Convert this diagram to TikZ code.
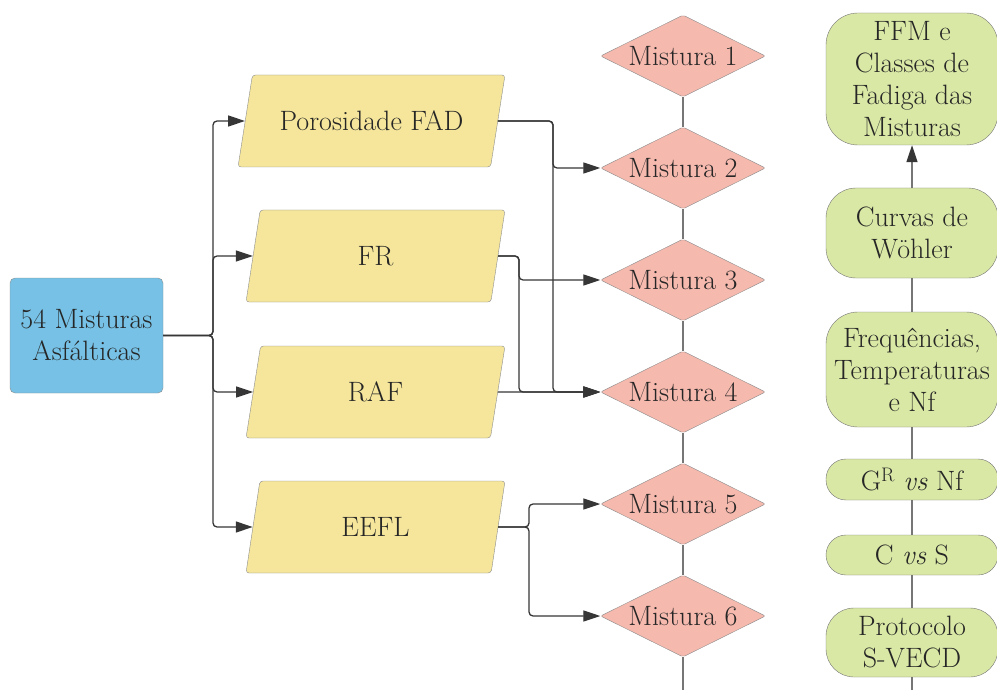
\documentclass[tikz,border=0pt]{standalone}
\usetikzlibrary{arrows.meta,shapes.geometric,calc}
\definecolor{ink}{HTML}{262626}
\definecolor{sky}{HTML}{76C1E5}
\definecolor{sand}{HTML}{F5E69B}
\definecolor{rose}{HTML}{F6B9AE}
\definecolor{lime}{HTML}{D9E8A5}
\definecolor{edge}{HTML}{8C8C8C}
\definecolor{wire}{HTML}{363636}
\definecolor{stem}{HTML}{767676}

\begin{document}
\begin{tikzpicture}[x=1pt,y=-1pt,
  every node/.style={text=ink,font=\rmfamily\fontsize{28}{32}\selectfont},
  src/.style={draw=edge,fill=sky,rounded corners=5pt,minimum width=153pt,minimum height=115pt,align=center,inner sep=2pt},
  par/.style={trapezium,trapezium left angle=59,trapezium right angle=121,trapezium stretches body,draw=edge,fill=sand,rounded corners=3pt,minimum height=92pt,minimum width=259pt,inner sep=2pt},
  mix/.style={diamond,aspect=2,draw=edge,fill=rose,rounded corners=2pt,minimum width=165pt,minimum height=82pt,inner sep=0pt},
  res/.style={draw=stem,fill=lime,minimum width=172pt,align=center,inner sep=1pt},
  link/.style={draw=wire,line width=1.3pt,rounded corners=4pt,-{Triangle[length=17pt,width=11pt]}},
  chain/.style={draw=stem,line width=1.3pt}]
\useasboundingbox (0,0) rectangle (997,690);
% inputs
\node[src] (mix) at (86.5,335.5) {54 Misturas\\Asfálticas};
\node[par,minimum width=267pt] (por) at (371.5,121) {Porosidade FAD};
\node[par] (fr) at (375.5,256) {FR};
\node[par] (raf) at (375.5,392) {RAF};
\node[par] (eefl) at (375.5,527) {EEFL};
% mixtures
\node[mix] (m1) at (683,56) {Mistura 1};
\node[mix] (m2) at (683,168) {Mistura 2};
\node[mix] (m3) at (683,280) {Mistura 3};
\node[mix] (m4) at (683,392) {Mistura 4};
\node[mix] (m5) at (683,504) {Mistura 5};
\node[mix] (m6) at (683,616) {Mistura 6};
% results
\node[res,minimum height=132pt,rounded corners=32pt] (ffm) at (912,79) {FFM e\\Classes de\\Fadiga das\\Misturas};
\node[res,minimum height=90pt,rounded corners=30pt] (woh) at (912,233) {Curvas de\\Wöhler};
\node[res,minimum height=115pt,rounded corners=32pt] (frq) at (912,369.5) {Frequências,\\Temperaturas\\e Nf};
\node[res,minimum height=41pt,rounded corners=20pt] (grn) at (912,479.5) {G\textsuperscript{R} \textit{vs} Nf};
\node[res,minimum height=40pt,rounded corners=20pt] (cs) at (912,555) {C \textit{vs} S};
\node[res,minimum height=69pt,rounded corners=28pt] (svecd) at (912,642.5) {Protocolo\\S-VECD};
% turning points
\coordinate (kx) at (213,0);
\coordinate (px) at (553,0);
\coordinate (fx) at (519,0);
\coordinate (ex) at (529,0);
\coordinate (mend) at (683,690);
\coordinate (rend) at (912,690);
% connectors
\draw[link] (mix.east) -| (kx |- por.west) -- (por.west);
\draw[link] (mix.east) -| (kx |- fr.west) -- (fr.west);
\draw[link] (mix.east) -| (kx |- raf.west) -- (raf.west);
\draw[link] (mix.east) -| (kx |- eefl.west) -- (eefl.west);
\draw[link] (por.east) -| (px |- m2.west) -- (m2.west);
\draw[link] (por.east) -| (px |- m4.west) -- (m4.west);
\draw[link] (fr.east) -| (fx |- m3.west) -- (m3.west);
\draw[link] (fr.east) -| (fx |- m4.west) -- (m4.west);
\draw[link] (raf.east) -- (m4.west);
\draw[link] (eefl.east) -| (ex |- m5.west) -- (m5.west);
\draw[link] (eefl.east) -| (ex |- m6.west) -- (m6.west);
\draw[chain] (m1) -- (m2) -- (m3) -- (m4) -- (m5) -- (m6) -- (mend);
\draw[chain] (rend) -- (svecd) -- (cs) -- (grn) -- (frq) -- (woh);
\draw[chain,-{Triangle[length=17pt,width=11pt,color=wire]}] (woh) -- (ffm);
\end{tikzpicture}
\end{document}
